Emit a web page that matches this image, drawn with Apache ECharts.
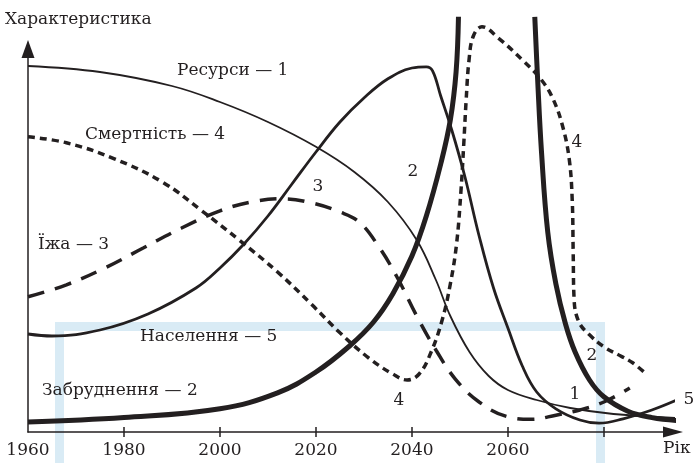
<!DOCTYPE html>
<html>
<head>
<meta charset="utf-8">
<script src="https://cdn.jsdelivr.net/npm/echarts@6/dist/echarts.min.js"></script>
<style>
  html, body { margin: 0; padding: 0; background: #fff; }
  #chart { width: 696px; height: 463px; }
</style>
</head>
<body>
<div id="chart"></div>
<script>
// роки підписів і позначок осі
const yearLabels = [1960, 1980, 2000, 2020, 2040, 2060]
const tickYears = [1980, 2000, 2020, 2040, 2060, 2080]

// Ресурси — 1
const resources = [
  [1960, 91.5], [1975, 90], [1990, 86.5], [2000, 82.5], [2010, 77.5],
  [2020, 71.3], [2028, 65], [2035, 57.5], [2041, 48], [2045, 38],
  [2048, 29], [2052, 20], [2056, 14], [2060, 10.5], [2066, 8],
  [2073, 6], [2082, 4.5], [2095, 3.5]
]

// Населення — 5
const population = [
  [1960, 24.5], [1965, 24], [1975, 25.5], [1985, 29.5], [1995, 36],
  [2000, 41], [2005, 47], [2010, 54], [2015, 62], [2020, 70],
  [2025, 77.5], [2030, 83.5], [2035, 88.3], [2040, 91], [2043, 91.3],
  [2044.3, 90.3], [2046, 84], [2048.3, 75.5], [2051, 64], [2054, 49],
  [2057, 36], [2060, 26], [2063, 16.5], [2066, 10], [2070, 5.8],
  [2075, 3], [2079, 2.2], [2084, 3.3], [2090, 5.5], [2095.2, 8]
]

// Забруднення — 2 (виходить за верх графіка і повертається)
const pollution = [
  [1960, 2.5], [1980, 3.6], [2000, 5.8], [2012, 9.8], [2020, 15],
  [2027, 21.5], [2032, 27.5], [2036, 34.5], [2040, 44], [2043, 54],
  [2046, 67], [2048, 78], [2049.2, 90], [2049.7, 103.8],
  [2057, null],
  [2065.6, 103.8], [2066.2, 88], [2067, 70], [2068.3, 50], [2070, 37],
  [2072, 27], [2074, 20], [2077, 13], [2080, 8.8], [2085, 5.2],
  [2090, 3.6], [2095.8, 2.8]
]

// Їжа — 3
const food = [
  [1960, 33.8], [1968, 36.8], [1976, 41], [1984, 46], [1992, 51],
  [2000, 55.3], [2007, 57.6], [2013, 58.3], [2019, 57.3], [2025, 55],
  [2029, 52.5], [2033, 46.5], [2037, 38.5], [2041, 29], [2045, 20.5],
  [2049, 13.3], [2054, 7.5], [2060, 3.8], [2065, 3.2], [2070, 4.2],
  [2075, 5.5], [2080, 7.5], [2085.4, 11]
]

// Смертність — 4
const mortality = [
  [1960, 73.8], [1968, 72.3], [1978, 68.3], [1988, 62.5], [1996, 55.5],
  [2004, 48], [2012, 40], [2019, 32], [2025, 24.8], [2031, 18.5],
  [2036, 14.5], [2039, 13], [2041.5, 14.5], [2044, 20], [2046.3, 28],
  [2048, 37], [2049.3, 47], [2050.2, 60], [2050.8, 72], [2051.3, 83],
  [2051.9, 93], [2052.8, 99], [2054.6, 101.3], [2058, 98.5], [2063, 93],
  [2067, 88], [2069.5, 83], [2071.5, 76], [2072.8, 68], [2073.4, 58],
  [2073.6, 45], [2073.8, 33], [2074.8, 27.5], [2077, 24.3], [2080, 21.3],
  [2083.5, 19], [2086, 17.3], [2089, 14.3]
]

const ink = '#231f20'
const serif = '"DejaVu Serif", "Liberation Serif", serif'

const chart = echarts.init(document.getElementById('chart'))

const makeLine = (name, data, width, type) => ({
  name,
  type: 'line',
  data,
  smooth: 0.4,
  symbol: 'none',
  clip: false,
  connectNulls: false,
  lineStyle: { color: ink, width, type, cap: 'butt' },
  z: 3
})

const text = (str, x, y, align) => ({
  type: 'text',
  z: 10,
  style: {
    text: str,
    x,
    y,
    fill: ink,
    font: '17px ' + serif,
    align: align || 'left',
    verticalAlign: 'middle'
  }
})

const option = {
  animation: false,
  backgroundColor: '#fff',
  grid: { left: 28, right: 23, top: 49, bottom: 31 },
  xAxis: [
    {
      type: 'value',
      min: 1960,
      max: 2094.4,
      axisLine: {
        show: true,
        symbol: ['none', 'triangle'],
        symbolSize: [11, 20],
        lineStyle: { color: ink, width: 1.5 }
      },
      axisTick: {
        show: true,
        customValues: tickYears,
        length: 5,
        lineStyle: { color: ink, width: 1.5 }
      },
      axisLabel: {
        customValues: yearLabels,
        formatter: (v) => String(v),
        color: ink,
        fontFamily: serif,
        fontSize: 17,
        margin: 10
      },
      splitLine: { show: false }
    },
    {
      type: 'value',
      position: 'bottom',
      min: 1960,
      max: 2094.4,
      axisLine: { show: false },
      axisTick: {
        show: true,
        inside: true,
        customValues: tickYears,
        length: 5,
        lineStyle: { color: ink, width: 1.5 }
      },
      axisLabel: { show: false },
      splitLine: { show: false }
    }
  ],
  yAxis: {
    type: 'value',
    min: 0,
    max: 95.75,
    axisLine: {
      show: true,
      symbol: ['none', 'triangle'],
      symbolSize: [13, 18],
      lineStyle: { color: ink, width: 1.5 }
    },
    axisTick: { show: false },
    axisLabel: { show: false },
    splitLine: { show: false }
  },
  graphic: [
    {
      type: 'rect',
      z: 0,
      silent: true,
      shape: { x: 59.5, y: 326.5, width: 541, height: 150 },
      style: { fill: 'none', stroke: '#d9ebf5', lineWidth: 9 }
    },
    text('Характеристика', 5, 20),
    text('Рік', 663, 449),
    text('Ресурси — 1', 177, 71),
    text('Смертність — 4', 85, 135),
    text('Їжа — 3', 38, 245),
    text('Населення — 5', 140, 337),
    text('Забруднення — 2', 42, 391),
    text('3', 318, 187, 'center'),
    text('2', 413, 172, 'center'),
    text('4', 577, 143, 'center'),
    text('4', 399, 401, 'center'),
    text('2', 592, 356, 'center'),
    text('1', 575, 395, 'center'),
    text('5', 689, 400, 'center')
  ],
  series: [
    makeLine('Ресурси', resources, 1.8, 'solid'),
    makeLine('Населення', population, 2.8, 'solid'),
    makeLine('Забруднення', pollution, 5, 'solid'),
    makeLine('Їжа', food, 3.5, [17, 11]),
    makeLine('Смертність', mortality, 3.5, [7, 5])
  ]
}

chart.setOption(option)
</script>
</body>
</html>
